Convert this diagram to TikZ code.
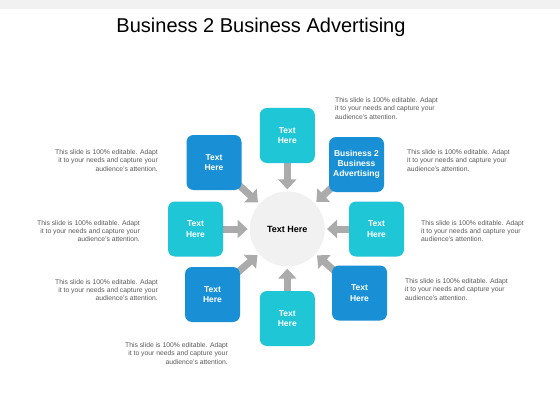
\documentclass[tikz,border=0pt]{standalone}
\usepackage{fontspec}
\setmainfont{Liberation Sans}
\usetikzlibrary{arrows.meta,positioning,backgrounds}
\definecolor{Turquesa}{HTML}{1FC6D6}
\definecolor{Azul}{HTML}{1990D6}
\definecolor{Gris}{HTML}{ABABAB}
\definecolor{Claro}{HTML}{F1F1F1}
\definecolor{Texto}{HTML}{5A5A5A}
\newcommand{\nota}{This slide is 100\% editable. Adapt\\it to your needs and capture your\\audience's attention.}

\begin{document}
\begin{tikzpicture}[x=1pt,y=-1pt,
  caja/.style={rounded corners=7pt,minimum size=55pt,inner sep=0pt,align=center,text=white,font=\fontsize{8.5}{10.3}\selectfont\bfseries},
  texto/.style={inner sep=0pt,text=Texto,font=\fontsize{6.8}{8.3}\selectfont},
  flecha/.style={Gris,line width=7pt,-{Triangle[width=18pt,length=10pt]},shorten >=2pt}]
\useasboundingbox (0,0) rectangle (560,420);
\node[font=\fontsize{20}{24}\selectfont] (titulo) at (261,27) {Business 2 Business Advertising};
\node[circle,fill=Claro,minimum size=75pt,font=\fontsize{9}{11}\selectfont\bfseries] (centro) at (287.3,229) {Text Here};
% cajas alrededor del centro
\node[caja,fill=Turquesa] (arriba) at (287.3,135.5) {Text\\Here};
\node[caja,fill=Azul] (arribader) at (356.5,164.5) {Business 2\\Business\\Advertising};
\node[caja,fill=Turquesa] (der) at (376.5,229) {Text\\Here};
\node[caja,fill=Azul] (abajoder) at (359.5,293) {Text\\Here};
\node[caja,fill=Turquesa] (abajo) at (287.3,318.5) {Text\\Here};
\node[caja,fill=Azul] (abajoizq) at (212.5,294.5) {Text\\Here};
\node[caja,fill=Turquesa] (izq) at (195.5,229) {Text\\Here};
\node[caja,fill=Azul] (arribaizq) at (214,162.5) {Text\\Here};
\begin{scope}[on background layer]
\fill[white] (0,0) rectangle (560,420);
\fill[Claro] (0,0) rectangle (560,9);
\foreach \n in {arriba,arribader,der,abajoder,abajo,abajoizq,izq,arribaizq}
  \draw[flecha] (\n.center) -- (centro);
\end{scope}
% notas
\node[texto,align=left,anchor=north west] (n1) at (335,97.5) {\nota};
\node[texto,align=left,anchor=north west] (n2) at (407,149.5) {\nota};
\node[texto,align=left,anchor=north west] (n3) at (421,220) {\nota};
\node[texto,align=left,anchor=north west] (n4) at (405,278.5) {\nota};
\node[texto,align=right,anchor=north east] (n5) at (158,149.5) {\nota};
\node[texto,align=right,anchor=north east] (n6) at (140,220) {\nota};
\node[texto,align=right,anchor=north east] (n7) at (158,279) {\nota};
\node[texto,align=right,anchor=north east] (n8) at (228,342.5) {\nota};
\end{tikzpicture}
\end{document}
